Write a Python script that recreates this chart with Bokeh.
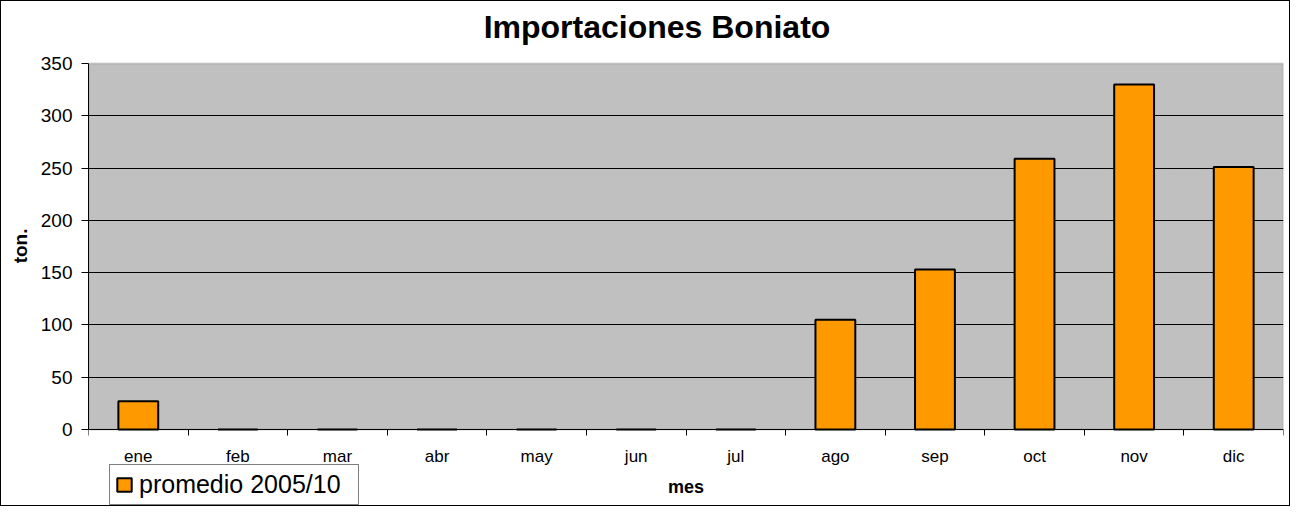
from bokeh.plotting import figure
from bokeh.models import (ColumnDataSource, FixedTicker, Legend, LegendItem, Range1d,
                          BoxAnnotation, Title, Label)
from bokeh.embed import file_html
from bokeh.resources import INLINE

months = ["ene", "feb", "mar", "abr", "may", "jun", "jul", "ago", "sep", "oct", "nov", "dic"]
promedio = [27, 0, 0, 0, 0, 0, 0, 105, 153, 259, 330, 251]
y_ticks = [0, 50, 100, 150, 200, 250, 300, 350]
series_name = "promedio 2005/10"
title_text = "Importaciones Boniato"
x_label = "mes"
y_label = "ton."

FONT = "Liberation Sans"

xs = [i + 0.5 for i in range(len(months))]
src = ColumnDataSource(dict(x=xs, top=promedio, month=months))

# the frame fills the whole figure height: the grey plot area covers only 0..350,
# the space above holds the title and the space below the axis labels and legend
y_low, y_high = -72.7, 409.3
p = figure(width=1290, height=506, output_backend="svg", toolbar_location=None,
           x_range=Range1d(0, len(months)), y_range=Range1d(y_low, y_high),
           min_border_left=87, min_border_right=8, min_border_top=0, min_border_bottom=2)
p.styles = {"border": "1px solid black"}

p.background_fill_color = "white"
p.border_fill_color = "white"
p.outline_line_color = None
p.title.text = ""
p.title.visible = False

plot_area = BoxAnnotation(left=0, right=len(months), bottom=y_ticks[0], top=y_ticks[-1],
                          fill_color="#C0C0C0", fill_alpha=1,
                          line_color="#808080", line_width=2, level="image")
p.add_layout(plot_area)

r = p.vbar(x="x", top="top", width=0.4, bottom=0, source=src,
           fill_color="#FF9900", line_color="black", line_width=2)

# title
title = Label(x=len(months) / 2, y=y_ticks[-1], x_offset=-29, y_offset=37,
              text=title_text, text_font=FONT, text_font_size="32px",
              text_font_style="bold", text_color="black",
              text_align="center", text_baseline="middle")
p.add_layout(title)

# x axis, drawn at y = 0
xa = p.xaxis[0]
xa.fixed_location = 0
xa.ticker = FixedTicker(ticks=xs, minor_ticks=list(range(len(months) + 1)))
xa.major_label_overrides = {x: m for x, m in zip(xs, months)}
xa.major_tick_out = 0
xa.major_tick_in = 0
xa.minor_tick_out = 6
xa.minor_tick_in = 0
xa.minor_tick_line_color = "black"
xa.axis_line_color = "black"
xa.major_label_text_font = FONT
xa.major_label_text_font_size = "17px"
xa.major_label_text_color = "black"
xa.major_label_standoff = 12
xa.axis_label = x_label
xa.axis_label_text_font = FONT
xa.axis_label_text_font_size = "18px"
xa.axis_label_text_font_style = "bold"
xa.axis_label_text_color = "black"
xa.axis_label_standoff = 7

# y axis
ya = p.yaxis[0]
ya.bounds = (y_ticks[0], y_ticks[-1])
ya.ticker = FixedTicker(ticks=y_ticks, minor_ticks=[])
ya.major_tick_out = 7
ya.major_tick_in = 0
ya.minor_tick_out = 0
ya.axis_line_color = "black"
ya.major_tick_line_color = "black"
ya.major_label_text_font = FONT
ya.major_label_text_font_size = "19px"
ya.major_label_text_color = "black"
ya.major_label_standoff = 9

# y axis label as a side title, so that it is centred on the 0..350 span
y_title = Title(text=y_label, text_font=FONT, text_font_size="19px",
                text_font_style="bold", text_color="black",
                align="right", vertical_align="top", offset=227, standoff=10)
p.add_layout(y_title, "left")

p.xgrid.grid_line_color = None
p.ygrid.ticker = FixedTicker(ticks=y_ticks[1:-1])
p.ygrid.grid_line_color = "black"
p.ygrid.grid_line_width = 1

legend = Legend(items=[LegendItem(label=series_name, renderers=[r])],
                location=(21, 0), orientation="horizontal",
                label_text_font=FONT, label_text_font_size="25px",
                label_text_color="black", label_width=214,
                glyph_width=18, glyph_height=17, padding=5, margin=0,
                border_line_color="black", border_line_width=1,
                background_fill_color="white", background_fill_alpha=1,
                label_standoff=6)
p.add_layout(legend)

open("out.html", "w").write(file_html(p, INLINE))
